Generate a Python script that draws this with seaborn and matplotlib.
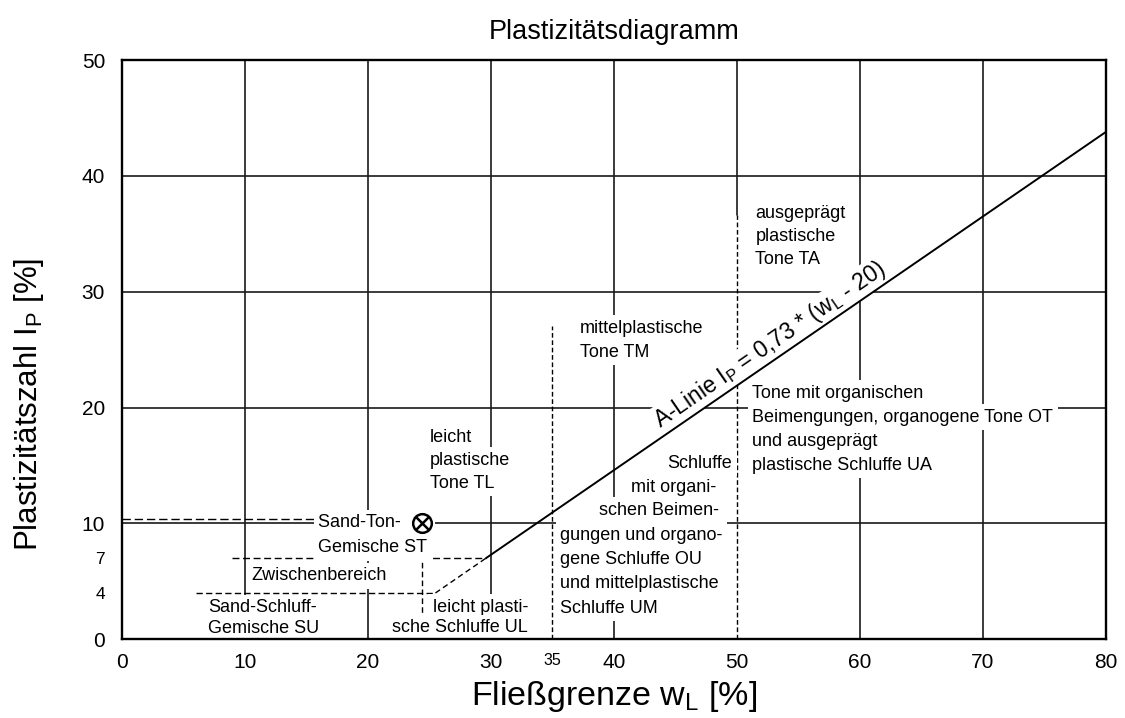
import numpy as np
import pandas as pd
import matplotlib
matplotlib.use("Agg")
import matplotlib.pyplot as plt
import seaborn as sns
from matplotlib.ticker import FixedLocator

# ---------------- data ----------------
x_ticks = [0, 10, 20, 30, 35, 40, 50, 60, 70, 80]
y_ticks = [0, 4, 7, 10, 20, 30, 40, 50]
small_x_ticks = [35]
small_y_ticks = [4, 7]
grid_x = [10, 20, 30, 40, 60, 70]
grid_y = [10, 20, 30, 40]
grid50_from = 36.6          # solid grid line at wL=50 only above this Ip

# A-Linie  Ip = 0.73 * (wL - 20)
a_line_wl = [29.6, 80.0]
a_line_ip = [7.0, 43.8]
a_ext_wl = [25.5, 29.6]
a_ext_ip = [4.0, 7.0]

# dashed boundaries
h_bound_y = [10.4, 7.0, 4.0]
h_bound_x0 = [0.0, 9.0, 6.0]
h_bound_x1 = [24.4, 29.6, 25.5]
h_bound_dash = [(6, 2.8), (5, 2.6), (4.5, 2.4)]
v_bound_x = [24.4, 35.0, 50.0]
v_bound_y1 = [10.0, 27.0, 36.6]
v_bound_dash = [(4, 2.4), (3.4, 1.9), (3.4, 1.9)]

sample_wl = [24.4]
sample_ip = [10.0]

title = "Plastizitätsdiagramm"
xlabel = r"Fließgrenze w$_\mathregular{L}$ [%]"
ylabel = r"Plastizitätszahl I$_\mathregular{P}$ [%]"
a_label = r"A-Linie I$_\mathregular{P}$ = 0,73 * (w$_\mathregular{L}$ - 20)"

# ---------------- style ----------------
sns.set_style("white")
plt.rcParams["font.family"] = ["Liberation Sans", "DejaVu Sans"]
plt.rcParams["mathtext.default"] = "regular"
plt.rcParams["text.color"] = "black"
plt.rcParams["axes.labelcolor"] = "black"
plt.rcParams["xtick.color"] = "black"
plt.rcParams["ytick.color"] = "black"

fig = plt.figure(figsize=(11.25, 7.18), dpi=100)
ax = fig.add_axes([0.1082, 0.1096, 0.8749, 0.8068])
ax.set_xlim(0, 80)
ax.set_ylim(0, 50)

# grid (minor locators at the grid positions)
ax.xaxis.remove_overlapping_locs = False
ax.yaxis.remove_overlapping_locs = False
ax.xaxis.set_minor_locator(FixedLocator(grid_x))
ax.yaxis.set_minor_locator(FixedLocator(grid_y))
ax.set_axisbelow(True)
ax.grid(which="minor", visible=True, color="#1a1a1a", lw=1.2)
ax.grid(which="major", visible=False)
ax.axvline(50, ymin=grid50_from / 50, ymax=1, color="#1a1a1a", lw=1.2, zorder=0.5)
ax.tick_params(which="minor", length=0)

# dashed boundaries
for yv, x0, x1, d in zip(h_bound_y, h_bound_x0, h_bound_x1, h_bound_dash):
    ax.plot([x0, x1], [yv, yv], color="black", lw=1.0, linestyle=(0, d), zorder=2)
for xv, y1, d in zip(v_bound_x, v_bound_y1, v_bound_dash):
    ax.plot([xv, xv], [0, y1], color="black", lw=1.0, linestyle=(0, d), zorder=2)

# A-line
df_a = pd.DataFrame({"wL": a_line_wl, "Ip": a_line_ip})
sns.lineplot(data=df_a, x="wL", y="Ip", ax=ax, color="black", lw=1.4, zorder=4)
df_e = pd.DataFrame({"wL": a_ext_wl, "Ip": a_ext_ip})
sns.lineplot(data=df_e, x="wL", y="Ip", ax=ax, color="black", lw=1.0,
             linestyle=(0, (4, 2.6)), zorder=4)

# sample marker (circle with cross)
sns.scatterplot(x=sample_wl, y=sample_ip, ax=ax, marker="o", s=180,
                facecolor="white", edgecolor="black", linewidth=1.8, zorder=5)
ax.plot(sample_wl, sample_ip, marker="x", ms=9.5, mew=1.8, color="black",
        linestyle="none", zorder=6)

# ---------------- texts ----------------
TS = 13
box = dict(facecolor="white", edgecolor="none", pad=3.2)


def put_lines(lines, x, y_top, step, ha="left", size=TS):
    for i, s in enumerate(lines):
        ax.text(x, y_top - i * step, s, ha=ha, va="center", fontsize=size,
                color="black", bbox=box, zorder=3)


put_lines(["Sand-Ton-      ", "Gemische ST"], 15.96, 10.05, 2.15)
put_lines(["Zwischenbereich"], 16.04, 5.47, 2.0, ha="center")
put_lines(["Sand-Schluff-", "Gemische SU"], 7.02, 2.72, 1.75)
put_lines(["leicht plasti-", "sche Schluffe UL"], 33.04, 2.78, 1.8, ha="right")
put_lines(["leicht", "plastische", "Tone TL"], 25.07, 17.45, 1.99)
put_lines(["mittelplastische", "Tone TM"], 37.26, 26.86, 2.07)
put_lines(["Schluffe"], 49.62, 15.21, 2.0, ha="right")
put_lines(["mit organi-"], 48.32, 13.14, 2.0, ha="right")
put_lines(["schen Beimen-"], 48.56, 11.16, 2.0, ha="right")
put_lines(["gungen und organo-", "gene Schluffe OU", "und mittelplastische",
           "Schluffe UM"], 35.63, 9.0, 2.1)
put_lines(["ausgeprägt", "plastische", "Tone TA"], 51.5, 36.78, 2.02)
put_lines(["Tone mit organischen", "Beimengungen, organogene Tone OT",
           "und ausgeprägt", "plastische Schluffe UA"], 51.25, 21.25, 2.07)

# A-line label along the line
ang = np.degrees(np.arctan(0.73))
ax.text(53.3, 0.73 * (53.3 - 20) + 0.15, a_label, fontsize=16.5, ha="center",
        va="bottom", rotation=ang, rotation_mode="anchor", color="black",
        transform_rotates_text=True, bbox=dict(facecolor="white", edgecolor="none", pad=1.0),
        zorder=3)

# ---------------- axes / ticks ----------------
ax.set_xticks(x_ticks)
ax.set_yticks(y_ticks)
ax.set_xticklabels([str(v) for v in x_ticks])
ax.set_yticklabels([str(v) for v in y_ticks])
ax.tick_params(axis="x", which="major", length=0, pad=10, labelsize=15,
               labelcolor="black")
ax.tick_params(axis="y", which="major", direction="in", length=8, width=1.0,
               pad=12, labelsize=15, color="black", labelcolor="black")
for lab, v in zip(ax.get_xticklabels(), x_ticks):
    if v in small_x_ticks:
        lab.set_fontsize(11.5)
for lab, v in zip(ax.get_yticklabels(), y_ticks):
    if v in small_y_ticks:
        lab.set_fontsize(12.5)

for sp in ax.spines.values():
    sp.set_visible(True)
    sp.set_color("black")
    sp.set_linewidth(1.7)
    sp.set_zorder(10)

ax.set_title(title, fontsize=19.5, pad=15, color="black")
ax.set_xlabel(xlabel, fontsize=24.5, labelpad=5, color="black")
ax.set_ylabel(ylabel, fontsize=22.5, color="black")
ax.yaxis.set_label_coords(-0.077, 0.405)

fig.savefig("out.png", dpi=100, facecolor="white")
